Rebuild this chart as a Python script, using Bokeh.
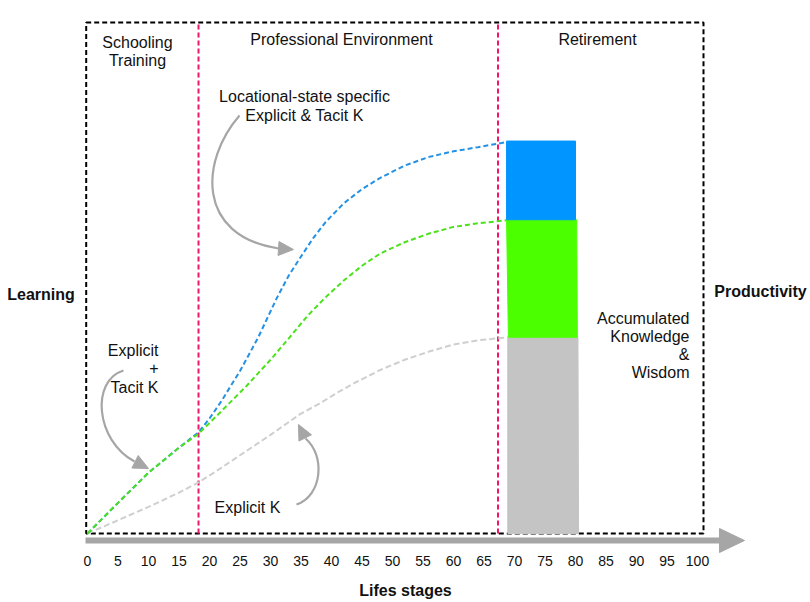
from bokeh.plotting import figure
from bokeh.models import Range1d, FixedTicker
from bokeh.core.properties import value
from bokeh.embed import file_html
from bokeh.resources import INLINE

# ---------------- data ----------------
age_ticks = list(range(0, 101, 5))
stage_bounds = [18.2, 67.3]

blue_x = [0, 5, 10, 15, 18.2, 20, 22, 25, 28, 31, 33, 35, 37, 39, 42, 45, 48, 52, 56, 60, 64, 68.7]
blue_y = [0, 6.0, 11.9, 16.8, 19.8, 22.5, 26.0, 31.8, 38.4, 46.0, 50.5, 54.2, 57.8, 60.9, 64.6, 67.4, 69.6, 72.0, 73.7, 74.8, 75.6, 76.6]

green_x = [0, 5, 10, 15, 18.2, 22, 26, 30, 33, 36, 39, 42, 45, 48, 52, 56, 60, 64, 68.7]
green_y = [0, 6.0, 11.9, 16.8, 19.5, 24.0, 28.8, 34.0, 38.2, 42.5, 46.2, 49.5, 52.4, 54.8, 57.0, 58.7, 60.0, 60.7, 61.3]

gray_x = [0, 5, 10, 15, 18.2, 22, 26, 30, 34.9, 38, 41, 44, 48, 52, 56, 60, 64, 68.9]
gray_y = [0, 2.6, 5.2, 8.0, 10.0, 12.9, 16.1, 19.3, 23.4, 25.4, 27.6, 29.6, 32.0, 34.0, 35.6, 37.0, 37.8, 38.4]

acc_names = ["Explicit K", "Explicit + Tacit K", "Locational-state specific"]
acc_bottom = [0, 38.4, 61.4]
acc_top = [38.4, 61.4, 76.8]
acc_left_bottom = [68.9, 69.0, 68.7]
acc_left_top = [68.9, 68.7, 68.7]
acc_right_bottom = [80.5, 80.3, 80.0]
acc_right_top = [80.4, 80.2, 80.0]

# ---------------- styles ----------------
FONT = value("Liberation Sans")
TXT = "#111111"
BLUE_LINE, GREEN_LINE, GRAY_LINE = "#2291e6", "#4be21c", "#cfcfcf"
BAR_COLORS = ["#c4c4c4", "#4cff00", "#0095ff"]
PINK = "#f5126b"
ARROW = "#a6a6a6"

# pixel helpers (for annotation placement only; page pixels from top-left)
PX0, PXU = 87.0, 6.1
PY0, PYU = 533.0, 5.11


def X(px):
    return (px - PX0) / PXU


def Y(py):
    return (PY0 - py) / PYU


W, H = 810, 602
FRAME_BOTTOM = 554
p = figure(width=W, height=H, output_backend="svg", toolbar_location=None,
           x_range=Range1d(X(0), X(W)), y_range=Range1d(Y(FRAME_BOTTOM), Y(0)),
           min_border_left=0, min_border_right=0, min_border_top=0,
           min_border_bottom=H - FRAME_BOTTOM, y_axis_location=None)
p.outline_line_color = None
p.xgrid.visible = False
p.ygrid.visible = False
p.background_fill_color = "white"

ax = p.xaxis[0]
ax.ticker = FixedTicker(ticks=age_ticks)
ax.axis_line_color = None
ax.major_tick_line_color = None
ax.minor_tick_line_color = None
ax.major_tick_out = 0
ax.major_tick_in = 0
ax.major_label_standoff = 1
ax.major_label_text_font = "Liberation Sans"
ax.major_label_text_font_size = "14px"
ax.major_label_text_color = TXT
ax.axis_label = "Lifes stages"
ax.axis_label_text_font = "Liberation Sans"
ax.axis_label_text_font_size = "16px"
ax.axis_label_text_font_style = "bold"
ax.axis_label_text_color = TXT
ax.axis_label_standoff = 13

# dashed frame box
p.quad(left=[X(85.7)], right=[X(703)], bottom=[0], top=[Y(22)],
       fill_color=None, line_color="black", line_width=2, line_dash="5 3")

# stage boundaries
for b in stage_bounds:
    p.segment(x0=[b], y0=[0], x1=[b], y1=[Y(22)], line_color=PINK, line_width=2, line_dash="5 3")

# curves
p.line(gray_x, gray_y, line_color=GRAY_LINE, line_width=2, line_dash="6 3")
p.line(blue_x, blue_y, line_color=BLUE_LINE, line_width=2, line_dash="5 3")
p.line(green_x, green_y, line_color=GREEN_LINE, line_width=2, line_dash="5 3")

# accumulated bar
xs, ys = [], []
for i in range(len(acc_names)):
    xs.append([acc_left_bottom[i], acc_right_bottom[i], acc_right_top[i], acc_left_top[i]])
    ys.append([acc_bottom[i], acc_bottom[i], acc_top[i], acc_top[i]])
p.patches(xs=xs, ys=ys, fill_color=BAR_COLORS, line_color=BAR_COLORS, line_width=1)


# curved annotation arrows
def arrow(start, c0, c1, end, tip, L=15.0, Wd=14.0):
    p.bezier(x0=[X(start[0])], y0=[Y(start[1])], x1=[X(end[0])], y1=[Y(end[1])],
             cx0=[X(c0[0])], cy0=[Y(c0[1])], cx1=[X(c1[0])], cy1=[Y(c1[1])],
             line_color=ARROW, line_width=2.2)
    dx, dy = tip[0] - end[0], tip[1] - end[1]
    n = (dx * dx + dy * dy) ** 0.5
    ux, uy = dx / n, dy / n
    bx, by = tip[0] - ux * L, tip[1] - uy * L
    nx, ny = -uy, ux
    hx = [tip[0], bx + nx * Wd / 2, bx - nx * Wd / 2]
    hy = [tip[1], by + ny * Wd / 2, by - ny * Wd / 2]
    p.patch([X(v) for v in hx], [Y(v) for v in hy], fill_color=ARROW, line_color=ARROW)


arrow((239, 115), (200, 160), (195, 235), (278, 248), (293, 249))
arrow((123, 370), (90, 380), (95, 440), (134, 461), (148, 468))
arrow((296, 504), (322, 495), (325, 455), (305, 438), (298, 424))

# x axis arrow
p.segment(x0=[X(85)], y0=[Y(540)], x1=[X(721)], y1=[Y(540)], line_color=ARROW, line_width=6)
p.patch([X(744), X(719), X(719)], [Y(540), Y(528), Y(552)], fill_color=ARROW, line_color=ARROW)


def txt(px, py, s, align="center", bold=False, size="16px", lh=1.1):
    p.text(x=[X(px)], y=[Y(py)], text=[s], text_align=align, text_baseline="middle",
           text_font=FONT, text_font_size=size, text_color=TXT,
           text_font_style="bold" if bold else "normal", text_line_height=lh)


txt(137, 51, "Schooling\nTraining")
txt(341, 39, "Professional Environment")
txt(597, 39, "Retirement")
txt(304, 105.5, "Locational-state specific\nExplicit & Tacit K")
txt(158, 368.5, "Explicit\n+\nTacit K", align="right")
txt(247, 507, "Explicit K")
txt(689, 345, "Accumulated\nKnowledge\n&\nWisdom", align="right", lh=1.05)
txt(40.5, 294, "Learning", bold=True)
txt(760, 291, "Productivity", bold=True)

open("out.html", "w").write(file_html(p, INLINE))
